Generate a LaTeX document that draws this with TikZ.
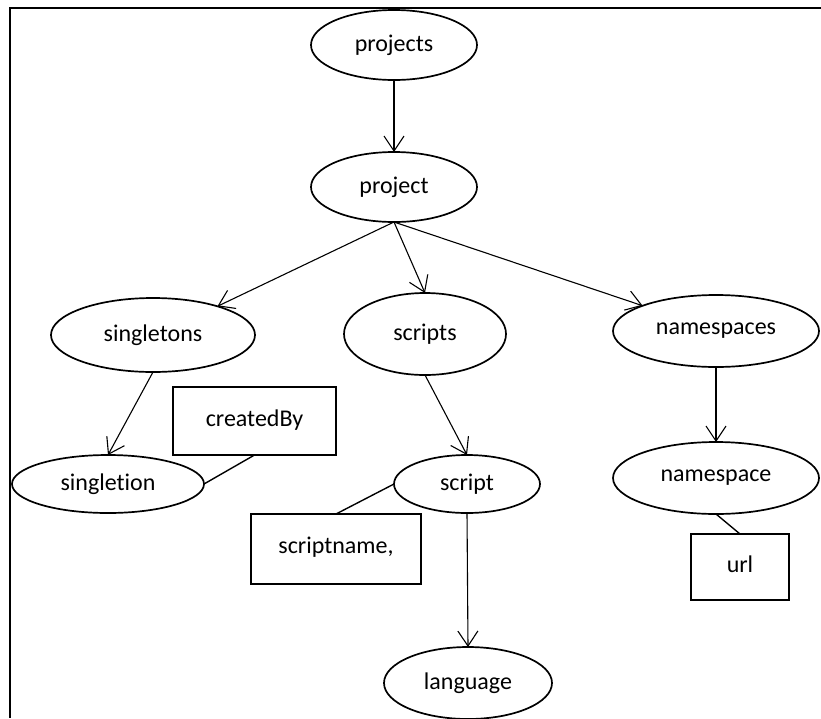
\documentclass[tikz,border=0pt]{standalone}
\usepackage{fontspec}
\setmainfont{Carlito}[Ligatures=NoCommon]
\usetikzlibrary{shapes.geometric,arrows.meta}
\tikzset{
  ent/.style={ellipse, draw, line width=1.7pt, inner sep=0pt, outer sep=0pt,
    font=\fontsize{24}{28}\selectfont},
  attr/.style={rectangle, draw, line width=1.7pt, inner sep=0pt, outer sep=0pt,
    font=\fontsize{24}{28}\selectfont},
  conn/.style={line width=1.1pt, -{Straight Barb[length=15pt,width=20pt,line width=1.1pt]}},
  link/.style={line width=1.4pt},
  frame/.style={line width=1.5pt}
}
\begin{document}
\begin{tikzpicture}[x=1pt,y=-1pt]
\useasboundingbox (0,0) rectangle (821,718);
\coordinate (fTL) at (10,8);
\coordinate (fTR) at (821,8);
\coordinate (fBL) at (10,718);
\draw[frame] (fTR) -- (fTL) -- (fBL);

\node[ent, minimum width=166, minimum height=70] (projects) at (394,45) {projects};
\node[ent, minimum width=166, minimum height=70] (project) at (394,187) {project};
\node[ent, minimum width=204, minimum height=74] (singletons) at (153,335) {singletons};
\node[ent, minimum width=162, minimum height=82] (scripts) at (425,334) {scripts};
\node[ent, minimum width=206, minimum height=72] (namespaces) at (716,331) {namespaces};
\node[ent, minimum width=192, minimum height=58] (singletion) at (108,484) {singletion};
\node[ent, minimum width=146, minimum height=58] (script) at (467,484) {script};
\node[ent, minimum width=206, minimum height=72] (namespace) at (716,478) {namespace};
\node[ent, minimum width=168, minimum height=72] (language) at (468,683) {language};

\node[attr, minimum width=163, minimum height=68] (createdby) at (254.5,421) {\raisebox{5pt}{createdBy}};
\node[attr, minimum width=170, minimum height=70] (scriptname) at (336,549) {\raisebox{7pt}{scriptname,}};
\node[attr, minimum width=98, minimum height=66] (url) at (740,567) {\raisebox{5pt}{url}};

\draw[conn] (projects.south) -- (project.north);
\draw[conn] (project.south) -- (singletons.24);
\draw[conn] (project.south) -- (scripts.north);
\draw[conn] (project.south) -- (namespaces.161);
\draw[conn] (singletons.south) -- (singletion.north);
\draw[conn] (scripts.south) -- (script.north);
\draw[conn] (namespaces.south) -- (namespace.north);
\draw[conn] (script.south) -- (language.north);

\draw[link] (createdby.south) -- (singletion.east);
\draw[link] (scriptname.north) -- (script.west);
\draw[link] (namespace.south) -- (url.north);
\end{tikzpicture}
\end{document}
